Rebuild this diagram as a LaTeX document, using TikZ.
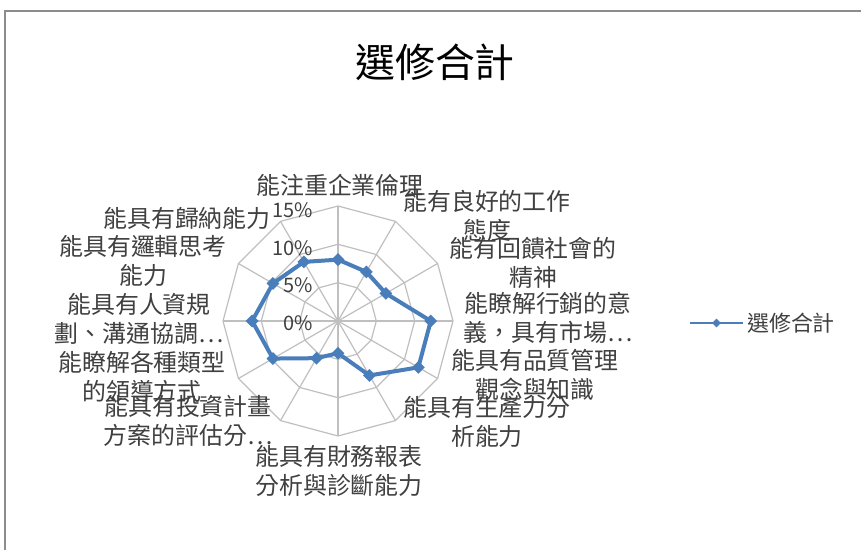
\documentclass[tikz,border=0pt]{standalone}
\usepackage{fontspec}
\setmainfont{Noto Sans CJK TC}
\usetikzlibrary{shapes.geometric,calc}
\definecolor{serblue}{HTML}{4A7EBB}
\definecolor{ringgray}{HTML}{BFBFBF}
\definecolor{labgray}{HTML}{404040}
\definecolor{framegray}{HTML}{8C8C8C}
\newcommand{\rr}{7.667}

\begin{document}
\begin{tikzpicture}[x=1bp,y=1bp,
    ringline/.style={ringgray,line width=1.2bp},
    serline/.style={serblue,line width=4bp,line join=round},
    axlabel/.style={labgray,align=center,font=\fontsize{24}{29}\selectfont,inner sep=0},
    ticklabel/.style={labgray,anchor=east,font=\fontsize{20}{24}\selectfont,inner sep=0},
    mk/.style={diamond,fill=serblue,inner sep=0,minimum size=13bp}]
    \useasboundingbox (0,0) rectangle (861,550);
    \fill[white] (0,0) rectangle (861,550);
    % chart frame
    \draw[framegray,line width=2bp] (5,0) -- (5,539) -- (861,539);
    % title
    \node[font=\fontsize{40}{44}\selectfont] (title) at (435,488) {選修合計};

    \begin{scope}[shift={(338,229)}]
    \coordinate (c) at (0,0);
    % spokes
    \draw[ringline] (90:115) -- (270:115);
    \draw[ringline] (60:115) -- (240:115);
    \draw[ringline] (30:115) -- (210:115);
    \draw[ringline] (0:115) -- (180:115);
    \draw[ringline] (-30:115) -- (150:115);
    \draw[ringline] (-60:115) -- (120:115);
    % rings
    \draw[ringline] (90:38.3) -- (60:38.3) -- (30:38.3) -- (0:38.3) -- (-30:38.3) -- (-60:38.3) -- (-90:38.3) -- (-120:38.3) -- (-150:38.3) -- (180:38.3) -- (150:38.3) -- (120:38.3) -- cycle;
    \draw[ringline] (90:76.7) -- (60:76.7) -- (30:76.7) -- (0:76.7) -- (-30:76.7) -- (-60:76.7) -- (-90:76.7) -- (-120:76.7) -- (-150:76.7) -- (180:76.7) -- (150:76.7) -- (120:76.7) -- cycle;
    \draw[ringline] (90:115) -- (60:115) -- (30:115) -- (0:115) -- (-30:115) -- (-60:115) -- (-90:115) -- (-120:115) -- (-150:115) -- (180:115) -- (150:115) -- (120:115) -- cycle;
    % tick labels
    \node[ticklabel] (t0) at (-25,-2) {0\%};
    \node[ticklabel] (t5) at (-25,36) {5\%};
    \node[ticklabel] (t10) at (-25,73) {10\%};
    \node[ticklabel] (t15) at (-25,111) {15\%};
    % data
    \coordinate (p1) at (90:{8.0*\rr});
    \coordinate (p2) at (60:{7.4*\rr});
    \coordinate (p3) at (30:{7.2*\rr});
    \coordinate (p4) at (0:{12.1*\rr});
    \coordinate (p5) at (-30:{12.1*\rr});
    \coordinate (p6) at (-60:{8.2*\rr});
    \coordinate (p7) at (-90:{4.2*\rr});
    \coordinate (p8) at (-120:{5.6*\rr});
    \coordinate (p9) at (-150:{9.8*\rr});
    \coordinate (p10) at (180:{11.2*\rr});
    \coordinate (p11) at (150:{9.8*\rr});
    \coordinate (p12) at (120:{8.9*\rr});
    \draw[serline] (p1) -- (p2) -- (p3) -- (p4) -- (p5) -- (p6) -- (p7) -- (p8) -- (p9) -- (p10) -- (p11) -- (p12) -- cycle;
    \node[mk] (m1) at (p1) {};
    \node[mk] (m2) at (p2) {};
    \node[mk] (m3) at (p3) {};
    \node[mk] (m4) at (p4) {};
    \node[mk] (m5) at (p5) {};
    \node[mk] (m6) at (p6) {};
    \node[mk] (m7) at (p7) {};
    \node[mk] (m8) at (p8) {};
    \node[mk] (m9) at (p9) {};
    \node[mk] (m10) at (p10) {};
    \node[mk] (m11) at (p11) {};
    \node[mk] (m12) at (p12) {};
    \end{scope}

    % category labels
    \node[axlabel] (l1) at (340,365) {能注重企業倫理};
    \node[axlabel] (l2) at (487,334) {能有良好的工作\\態度};
    \node[axlabel] (l3) at (533,287) {能有回饋社會的\\精神};
    \node[axlabel] (l4) at (548,232) {能瞭解行銷的意\\義，具有市場…};
    \node[axlabel] (l5) at (535,175) {能具有品質管理\\觀念與知識};
    \node[axlabel] (l6) at (487,128) {能具有生產力分\\析能力};
    \node[axlabel] (l7) at (339,79) {能具有財務報表\\分析與診斷能力};
    \node[axlabel] (l8) at (188,129) {能具有投資計畫\\方案的評估分…};
    \node[axlabel] (l9) at (142,173) {能瞭解各種類型\\的領導方式};
    \node[axlabel] (l10) at (139,231) {能具有人資規\\劃、溝通協調…};
    \node[axlabel] (l11) at (143,289) {能具有邏輯思考\\能力};
    \node[axlabel] (l12) at (187,332) {能具有歸納能力};

    % legend
    \coordinate (lga) at (690,227);
    \coordinate (lgb) at (743,227);
    \draw[serblue,line width=2.5bp] (lga) -- (lgb);
    \node[mk,minimum size=9bp] (lgm) at ($(lga)!0.5!(lgb)$) {};
    \node[labgray,anchor=west,inner sep=0,font=\fontsize{22}{26}\selectfont] (lgt) at (747,227) {選修合計};
\end{tikzpicture}
\end{document}
